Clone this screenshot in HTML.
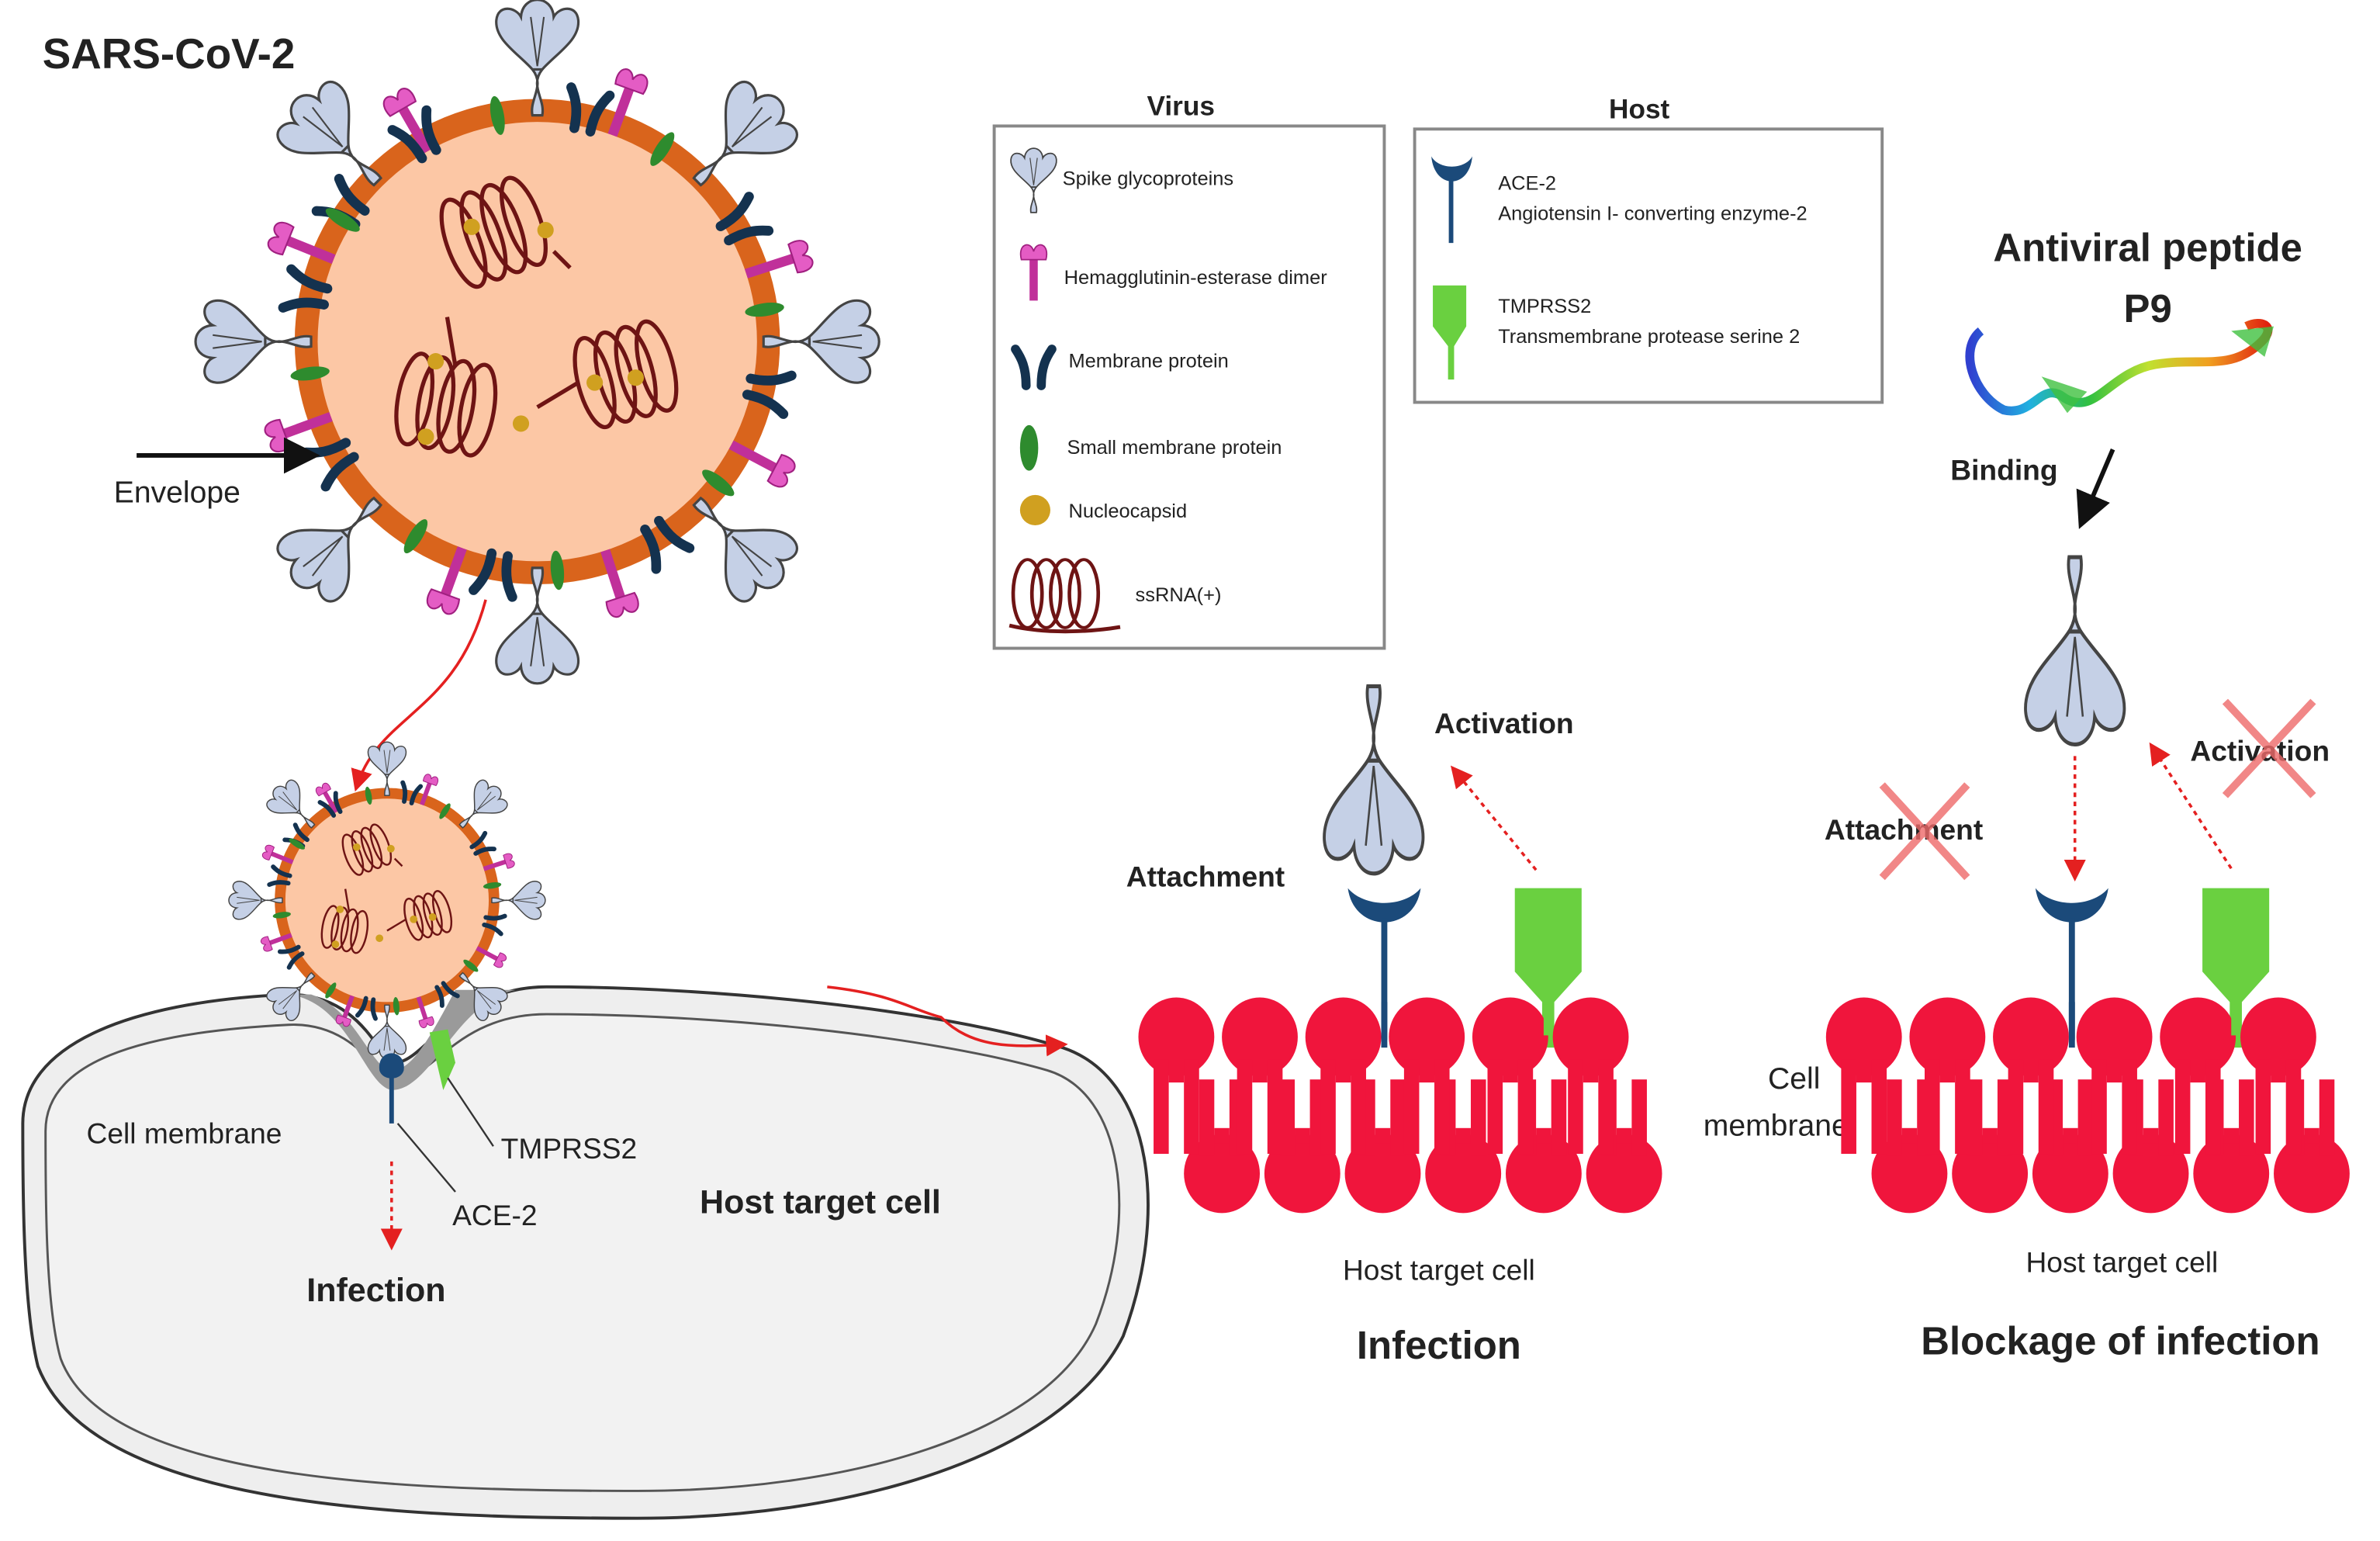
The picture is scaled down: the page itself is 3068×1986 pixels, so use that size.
<!DOCTYPE html>
<html><head><meta charset="utf-8"><style>
html,body{margin:0;padding:0;background:#fff;}
svg{display:block}
text{font-family:"Liberation Sans",sans-serif;fill:#222}
.b{font-weight:bold}
</style></head><body>
<svg width="3068" height="1986" viewBox="0 0 1568 1015" preserveAspectRatio="none" xmlns="http://www.w3.org/2000/svg">
<defs>
<g id="spike">
 <path d="M-3,0 C-5,-10 5,-18 -3,-28 L3,-28 C-5,-18 5,-10 3,0 Z" fill="#c5d0e6" stroke="#444" stroke-width="1.5"/>
 <path d="M-3,-28 C-12,-38 -26,-46 -25,-58 C-24,-68 -13,-66 -10,-60 C-9,-74 9,-74 10,-60 C13,-66 24,-68 25,-58 C26,-46 12,-38 3,-28 Z" fill="#c5d0e6" stroke="#444" stroke-width="1.5"/>
 <path d="M0,-30 L-4,-60 M0,-30 L4,-60" stroke="#444" stroke-width="1" fill="none"/>
</g>
<g id="he">
 <rect x="-3" y="-30" width="6" height="30" fill="#c0309a"/>
 <path d="M-9,-30 C-12,-42 -2,-44 0,-36 C2,-44 12,-42 9,-30 Z" fill="#e45cc4" stroke="#a02080" stroke-width="1"/>
</g>
<g id="mp">
 <path d="M-5,2 C-5,-10 -8,-16 -12,-22 M5,2 C5,-10 8,-16 12,-22" stroke="#14324f" stroke-width="6" fill="none" stroke-linecap="round"/>
</g>
<g id="sm"><ellipse cx="0" cy="-6" rx="4" ry="12" fill="#2e8b2e"/></g>
<g id="coil">
 <ellipse cx="0" cy="0" rx="10" ry="28" fill="none" stroke="#6e1414" stroke-width="2.5"/>
 <ellipse cx="13" cy="0" rx="10" ry="28" fill="none" stroke="#6e1414" stroke-width="2.5"/>
 <ellipse cx="26" cy="0" rx="10" ry="28" fill="none" stroke="#6e1414" stroke-width="2.5"/>
 <ellipse cx="39" cy="0" rx="10" ry="28" fill="none" stroke="#6e1414" stroke-width="2.5"/>
</g>
<g id="lipT">
 <ellipse cx="0" cy="0" rx="25" ry="26" fill="#f0153c"/>
 <rect x="-15" y="15" width="10" height="62" fill="#f0153c"/>
 <rect x="5" y="15" width="10" height="62" fill="#f0153c"/>
 <rect x="-5" y="20" width="10" height="10" fill="#f0153c"/>
</g>
<g id="lipB">
 <ellipse cx="0" cy="0" rx="25" ry="26" fill="#f0153c"/>
 <rect x="-15" y="-62" width="10" height="50" fill="#f0153c"/>
 <rect x="5" y="-62" width="10" height="50" fill="#f0153c"/>
 <rect x="-5" y="-30" width="10" height="10" fill="#f0153c"/>
</g>
<g id="virus">
 <circle cx="0" cy="0" r="148" fill="#d9641c"/>
 <circle cx="0" cy="0" r="134" fill="#fcc7a5"/>
 <use href="#sm" transform="rotate(-10) translate(0,-134)"/>
 <use href="#he" transform="rotate(-30) translate(0,-134)"/>
 <use href="#mp" transform="rotate(-55) translate(0,-134)"/>
 <use href="#he" transform="rotate(20) translate(0,-134)"/>
 <use href="#mp" transform="rotate(12) translate(0,-134)"/>
 <use href="#sm" transform="rotate(33) translate(0,-134)"/>
 <use href="#mp" transform="rotate(60) translate(0,-134)"/>
 <use href="#he" transform="rotate(72) translate(0,-134)"/>
 <use href="#sm" transform="rotate(82) translate(0,-134)"/>
 <use href="#mp" transform="rotate(102) translate(0,-134)"/>
 <use href="#he" transform="rotate(118) translate(0,-134)"/>
 <use href="#sm" transform="rotate(128) translate(0,-134)"/>
 <use href="#mp" transform="rotate(148) translate(0,-134)"/>
 <use href="#he" transform="rotate(162) translate(0,-134)"/>
 <use href="#sm" transform="rotate(175) translate(0,-134)"/>
 <use href="#mp" transform="rotate(190) translate(0,-134)"/>
 <use href="#he" transform="rotate(200) translate(0,-134)"/>
 <use href="#sm" transform="rotate(212) translate(0,-134)"/>
 <use href="#mp" transform="rotate(240) translate(0,-134)"/>
 <use href="#he" transform="rotate(250) translate(0,-134)"/>
 <use href="#sm" transform="rotate(262) translate(0,-134)"/>
 <use href="#mp" transform="rotate(282) translate(0,-134)"/>
 <use href="#he" transform="rotate(292) translate(0,-134)"/>
 <use href="#sm" transform="rotate(302) translate(0,-134)"/>
 <use href="#mp" transform="rotate(330) translate(0,-134)"/>
 <use href="#spike" transform="rotate(0) translate(0,-138)"/>
 <use href="#spike" transform="rotate(45) translate(0,-138)"/>
 <use href="#spike" transform="rotate(90) translate(0,-138)"/>
 <use href="#spike" transform="rotate(135) translate(0,-138)"/>
 <use href="#spike" transform="rotate(180) translate(0,-138)"/>
 <use href="#spike" transform="rotate(225) translate(0,-138)"/>
 <use href="#spike" transform="rotate(270) translate(0,-138)"/>
 <use href="#spike" transform="rotate(315) translate(0,-138)"/>
 <use href="#coil" transform="translate(-45,-60) rotate(-20)"/>
 <use href="#coil" transform="translate(-75,35) rotate(10)"/>
 <use href="#coil" transform="translate(35,25) rotate(-15)"/>
 <path d="M10,-55 L20,-45 M-55,-15 L-50,15 M0,40 L25,25" stroke="#6e1414" stroke-width="2.5" fill="none"/>
 <circle cx="-40" cy="-70" r="5" fill="#d0a020"/><circle cx="5" cy="-68" r="5" fill="#d0a020"/>
 <circle cx="-62" cy="12" r="5" fill="#d0a020"/><circle cx="-68" cy="58" r="5" fill="#d0a020"/>
 <circle cx="-10" cy="50" r="5" fill="#d0a020"/><circle cx="35" cy="25" r="5" fill="#d0a020"/><circle cx="60" cy="22" r="5" fill="#d0a020"/>
</g>
<marker id="ar" markerWidth="8" markerHeight="8" refX="6" refY="4" orient="auto"><path d="M0,0 L8,4 L0,8 Z" fill="#111"/></marker>
<marker id="rr" markerWidth="8" markerHeight="8" refX="6" refY="4" orient="auto"><path d="M0,0 L8,4 L0,8 Z" fill="#e42020"/></marker>
<linearGradient id="rb" x1="0" x2="1"><stop offset="0" stop-color="#3040d0"/><stop offset="0.2" stop-color="#20b0e0"/><stop offset="0.4" stop-color="#30c040"/><stop offset="0.6" stop-color="#c0e030"/><stop offset="0.8" stop-color="#f0a020"/><stop offset="1" stop-color="#e02010"/></linearGradient>
</defs>

<text x="28" y="45" class="b" font-size="28">SARS-CoV-2</text>

<!-- big virus -->
<g transform="translate(354,225) scale(1.08)"><use href="#virus"/></g>
<line x1="90" y1="300" x2="205" y2="300" stroke="#111" stroke-width="3" marker-end="url(#ar)"/>
<text x="75" y="331" font-size="20">Envelope</text>
<path d="M320,395 C300,470 250,470 235,518" stroke="#e42020" stroke-width="1.8" fill="none" marker-end="url(#rr)"/>

<!-- cell -->
<path d="M15,740 C15,690 80,660 190,655 C240,655 250,700 260,700 C280,700 300,650 360,650 C470,650 620,665 700,690 C760,710 770,800 740,880 C700,960 560,1000 420,1000 C250,1000 60,990 25,900 C15,860 15,780 15,740 Z" fill="#eeeeee" stroke="#333" stroke-width="2"/>
<path d="M30,745 C30,700 90,680 190,675 C235,673 250,712 260,712 C285,712 300,668 360,668 C470,668 610,682 690,705 C740,720 750,800 722,872 C690,945 560,982 420,982 C260,982 70,975 40,895 C30,860 30,790 30,745 Z" fill="#f2f2f2" stroke="#555" stroke-width="1.5"/>
<path d="M190,655 C230,660 240,715 258,718 C285,718 300,660 340,652 L300,652 C280,690 270,705 258,705 C245,705 235,665 205,655 Z" fill="#9a9a9a"/>
<g transform="translate(255,593) scale(0.5)"><use href="#virus"/></g>
<path d="M250,705 C248,690 268,690 266,705 C264,712 252,712 250,705 Z" fill="#1b4a7a"/>
<line x1="258" y1="710" x2="258" y2="740" stroke="#1b4a7a" stroke-width="3"/>
<path d="M283,680 L295,678 L300,700 L292,718 Z" fill="#6ad040"/>
<line x1="258" y1="765" x2="258" y2="820" stroke="#e42020" stroke-width="1.8" stroke-dasharray="3,3" marker-end="url(#rr)"/>
<line x1="262" y1="740" x2="300" y2="785" stroke="#333" stroke-width="1.2"/>
<line x1="295" y1="710" x2="325" y2="755" stroke="#333" stroke-width="1.2"/>
<text x="57" y="753" font-size="19">Cell membrane</text>
<text x="330" y="763" font-size="19">TMPRSS2</text>
<text x="298" y="807" font-size="19">ACE-2</text>
<text x="202" y="857" class="b" font-size="22">Infection</text>
<text x="461" y="799" class="b" font-size="22">Host target cell</text>

<path d="M545,650 C590,655 600,665 620,670 C640,690 665,690 700,688" stroke="#e42020" stroke-width="1.8" fill="none" marker-end="url(#rr)"/>

<!-- legend virus -->
<text x="778" y="76" class="b" font-size="18" text-anchor="middle">Virus</text>
<rect x="655" y="83" width="257" height="344" fill="#fff" stroke="#888" stroke-width="2"/>
<g transform="translate(681,140) scale(0.6)"><use href="#spike"/></g>
<text x="700" y="122" font-size="13">Spike glycoproteins</text>
<g transform="translate(681,198) scale(0.9)"><use href="#he"/></g>
<text x="701" y="187" font-size="13">Hemagglutinin-esterase dimer</text>
<g transform="translate(681,252)"><use href="#mp"/></g>
<text x="704" y="242" font-size="13">Membrane protein</text>
<ellipse cx="678" cy="295" rx="6" ry="15" fill="#2e8b2e"/>
<text x="703" y="299" font-size="13">Small membrane protein</text>
<circle cx="682" cy="336" r="10" fill="#d0a020"/>
<text x="704" y="341" font-size="13">Nucleocapsid</text>
<g transform="translate(677,391) scale(0.95,0.8)"><use href="#coil"/></g>
<path d="M665,412 C690,418 720,416 738,413" stroke="#6e1414" stroke-width="2.5" fill="none"/>
<text x="748" y="396" font-size="13">ssRNA(+)</text>

<!-- legend host -->
<text x="1080" y="78" class="b" font-size="18" text-anchor="middle">Host</text>
<rect x="932" y="85" width="308" height="180" fill="#fff" stroke="#888" stroke-width="2"/>
<path d="M943,103 C945,125 968,125 970,103 C965,112 948,112 943,103 Z" fill="#1b4a7a"/>
<line x1="956" y1="118" x2="956" y2="160" stroke="#1b4a7a" stroke-width="3"/>
<text x="987" y="125" font-size="13">ACE-2</text>
<text x="987" y="145" font-size="13">Angiotensin I- converting enzyme-2</text>
<path d="M944,188 L966,188 L966,215 L958,228 L958,250 L954,250 L954,228 L944,215 Z" fill="#6ad040"/>
<text x="987" y="206" font-size="13">TMPRSS2</text>
<text x="987" y="226" font-size="13">Transmembrane protease serine 2</text>

<!-- peptide -->
<text x="1415" y="172" class="b" font-size="26" text-anchor="middle">Antiviral peptide</text>
<text x="1415" y="212" class="b" font-size="26" text-anchor="middle">P9</text>
<path d="M1305,218 C1290,230 1300,260 1320,270 C1340,275 1345,250 1360,262 C1380,275 1390,245 1420,240 C1450,235 1470,245 1490,225 C1500,215 1490,210 1480,215" stroke="url(#rb)" stroke-width="6" fill="none"/>
<path d="M1345,248 L1375,258 L1362,272 Z M1470,218 L1498,215 L1492,235 Z" fill="#40c040" opacity="0.8"/>
<text x="1285" y="316" class="b" font-size="19">Binding</text>
<line x1="1392" y1="296" x2="1372" y2="343" stroke="#111" stroke-width="3" marker-end="url(#ar)"/>

<!-- middle membrane -->
<g transform="translate(905,452) scale(1.3,1.75) rotate(180)"><use href="#spike"/></g>
<path d="M888,585 C892,615 932,615 936,585 C925,598 899,598 888,585 Z" fill="#1b4a7a"/>
<line x1="912" y1="605" x2="912" y2="690" stroke="#1b4a7a" stroke-width="4"/>
<path d="M998,585 L1042,585 L1042,640 L1024,660 L1024,690 L1016,690 L1016,660 L998,640 Z" fill="#6ad040"/>
<use href="#lipB" x="805" y="773"/><use href="#lipB" x="858" y="773"/><use href="#lipB" x="911" y="773"/><use href="#lipB" x="964" y="773"/><use href="#lipB" x="1017" y="773"/><use href="#lipB" x="1070" y="773"/>
<use href="#lipT" x="775" y="683"/><use href="#lipT" x="830" y="683"/><use href="#lipT" x="885" y="683"/><use href="#lipT" x="940" y="683"/><use href="#lipT" x="995" y="683"/><use href="#lipT" x="1048" y="683"/>
<line x1="912" y1="660" x2="912" y2="685" stroke="#1b4a7a" stroke-width="4"/>
<line x1="1020" y1="655" x2="1020" y2="682" stroke="#6ad040" stroke-width="6"/>
<line x1="1012" y1="573" x2="958" y2="507" stroke="#e42020" stroke-width="1.8" stroke-dasharray="3,3" marker-end="url(#rr)"/>
<text x="945" y="483" class="b" font-size="19">Activation</text>
<text x="742" y="584" class="b" font-size="19">Attachment</text>
<text x="1182" y="717" font-size="20" text-anchor="middle">Cell</text>
<text x="1170" y="748" font-size="20" text-anchor="middle">membrane</text>
<text x="948" y="843" font-size="19" text-anchor="middle">Host target cell</text>
<text x="948" y="895" class="b" font-size="26" text-anchor="middle">Infection</text>

<!-- right membrane -->
<g transform="translate(1367,367) scale(1.3,1.75) rotate(180)"><use href="#spike"/></g>
<path d="M1341,585 C1345,615 1385,615 1389,585 C1378,598 1352,598 1341,585 Z" fill="#1b4a7a"/>
<line x1="1365" y1="605" x2="1365" y2="690" stroke="#1b4a7a" stroke-width="4"/>
<path d="M1451,585 L1495,585 L1495,640 L1477,660 L1477,690 L1469,690 L1469,660 L1451,640 Z" fill="#6ad040"/>
<use href="#lipB" x="1258" y="773"/><use href="#lipB" x="1311" y="773"/><use href="#lipB" x="1364" y="773"/><use href="#lipB" x="1417" y="773"/><use href="#lipB" x="1470" y="773"/><use href="#lipB" x="1523" y="773"/>
<use href="#lipT" x="1228" y="683"/><use href="#lipT" x="1283" y="683"/><use href="#lipT" x="1338" y="683"/><use href="#lipT" x="1393" y="683"/><use href="#lipT" x="1448" y="683"/><use href="#lipT" x="1501" y="683"/>
<line x1="1365" y1="660" x2="1365" y2="685" stroke="#1b4a7a" stroke-width="4"/>
<line x1="1473" y1="655" x2="1473" y2="682" stroke="#6ad040" stroke-width="6"/>
<line x1="1367" y1="498" x2="1367" y2="577" stroke="#e42020" stroke-width="1.8" stroke-dasharray="3,3" marker-end="url(#rr)"/>
<line x1="1470" y1="572" x2="1418" y2="492" stroke="#e42020" stroke-width="1.8" stroke-dasharray="3,3" marker-end="url(#rr)"/>
<text x="1202" y="553" class="b" font-size="19">Attachment</text>
<text x="1443" y="501" class="b" font-size="19">Activation</text>
<path d="M1240,517 L1296,578 M1296,517 L1240,578" stroke="#ee6a6a" stroke-width="5" opacity="0.8"/>
<path d="M1466,462 L1524,524 M1524,462 L1466,524" stroke="#ee6a6a" stroke-width="5" opacity="0.8"/>
<text x="1398" y="838" font-size="19" text-anchor="middle">Host target cell</text>
<text x="1397" y="892" class="b" font-size="26" text-anchor="middle">Blockage of infection</text>
</svg>
</body></html>
